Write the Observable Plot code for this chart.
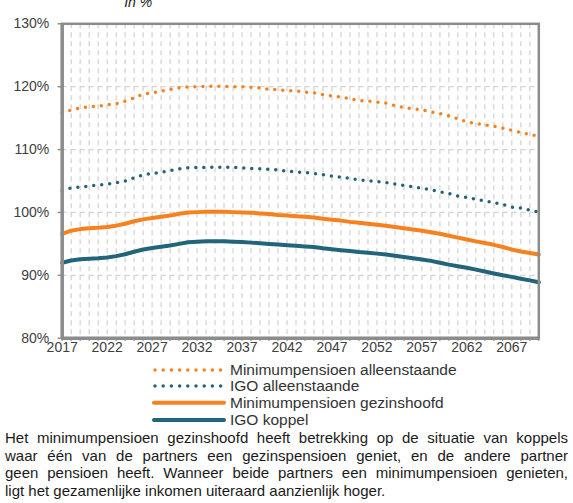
<!DOCTYPE html>
<html>
<head>
<meta charset="utf-8">
<script src="https://cdn.jsdelivr.net/npm/d3@7"></script>
<script src="https://cdn.jsdelivr.net/npm/@observablehq/plot@0.6"></script>
<style>
  body { margin: 0; background: #fff; font-family: "Liberation Sans", Arial, sans-serif; color: #262626; }
  #wrap { width: 573px; }
  #caption { margin: 1px 5px 0 5px; width: 563px; font-size: 15px; line-height: 17.6px; color: #1a1a1a; }
  #caption div.j { text-align: justify; text-align-last: justify; }
</style>
</head>
<body>
<div id="wrap"></div>
<script>
const years = [2017,2018,2019,2020,2021,2022,2023,2024,2025,2026,2027,2028,2029,2030,2031,2032,2033,2034,2035,2036,2037,2038,2039,2040,2041,2042,2043,2044,2045,2046,2047,2048,2049,2050,2051,2052,2053,2054,2055,2056,2057,2058,2059,2060,2061,2062,2063,2064,2065,2066,2067,2068,2069,2070];
const labelYears = [2017,2022,2027,2032,2037,2042,2047,2052,2057,2062,2067];
const yTicks = [80,90,100,110,120,130];

const minAlleenstaande = [115.8,116.3,116.6,116.8,116.9,117.1,117.3,117.7,118.2,118.8,119.0,119.3,119.55,119.85,119.95,120.0,120.05,120.05,120.05,120.0,120.0,119.9,119.8,119.6,119.5,119.4,119.3,119.15,119.0,118.75,118.5,118.35,118.1,117.8,117.7,117.55,117.4,117.0,116.7,116.5,116.3,116.0,115.75,115.35,114.9,114.4,114.15,113.9,113.7,113.4,113.05,112.7,112.4,112.1];
const igoAlleenstaande = [103.5,103.9,104.05,104.2,104.35,104.5,104.7,105.0,105.5,105.95,106.2,106.4,106.65,106.95,107.1,107.15,107.15,107.2,107.2,107.15,107.1,107.0,106.95,106.85,106.75,106.55,106.45,106.35,106.2,106.0,105.8,105.6,105.4,105.2,105.05,104.9,104.75,104.5,104.3,104.05,103.85,103.6,103.3,103.0,102.6,102.4,102.1,101.85,101.55,101.25,100.85,100.7,100.35,100.05];
const minGezinshoofd = [96.6,97.1,97.35,97.5,97.55,97.7,97.9,98.2,98.6,98.9,99.1,99.3,99.5,99.8,100.0,100.05,100.1,100.1,100.1,100.05,100.0,99.95,99.85,99.75,99.6,99.5,99.4,99.3,99.2,99.0,98.85,98.7,98.5,98.35,98.2,98.05,97.9,97.7,97.5,97.3,97.1,96.85,96.6,96.3,96.0,95.7,95.4,95.15,94.85,94.5,94.1,93.8,93.55,93.3];
const igoKoppel = [92.0,92.35,92.55,92.65,92.7,92.85,93.05,93.35,93.75,94.1,94.35,94.55,94.75,95.0,95.25,95.35,95.4,95.4,95.4,95.35,95.3,95.2,95.1,95.0,94.9,94.8,94.7,94.6,94.5,94.3,94.15,94.0,93.85,93.7,93.6,93.45,93.3,93.1,92.9,92.7,92.5,92.3,92.0,91.7,91.45,91.2,90.9,90.6,90.3,90.0,89.75,89.45,89.2,88.9];

const seriesNames = ["Minimumpensioen alleenstaande","IGO alleenstaande","Minimumpensioen gezinshoofd","IGO koppel"];
const seriesColors = ["#f5821f","#22657b","#f5821f","#22657b"];
const seriesDotted = [true,true,false,false];
const seriesValues = [minAlleenstaande, igoAlleenstaande, minGezinshoofd, igoKoppel];

const AXIS = "#8c8c8c", GRID = "#d4d4d4";

const rows = seriesValues.flatMap((vals, i) => vals.map((v, j) => ({year: years[j], value: v, series: seriesNames[i]})));

const lineMarks = seriesNames.map((name, i) => Plot.line(rows.filter(d => d.series === name), {
  x: "year", y: "value",
  stroke: seriesColors[i],
  strokeWidth: seriesDotted[i] ? 3.5 : 4,
  strokeDasharray: seriesDotted[i] ? "0,8" : null,
  strokeLinecap: "round",
  strokeLinejoin: "round"
}));

const chart = Plot.plot({
  width: 573,
  height: 362,
  marginLeft: 61.7,
  marginRight: 34.7,
  marginTop: 23.3,
  marginBottom: 24.3,
  style: {fontFamily: "Liberation Sans, Arial, sans-serif", fontSize: "14px", color: "#404040", background: "#fff"},
  x: {domain: [2017, 2070]},
  y: {domain: [80, 130]},
  marks: [
    Plot.ruleX(years.slice(1, -1), {stroke: GRID, strokeWidth: 1.3, strokeDasharray: "5,4"}),
    Plot.ruleY(yTicks.slice(1, -1), {stroke: GRID, strokeWidth: 1.3, strokeDasharray: "5,4"}),
    ...lineMarks,
    Plot.frame({stroke: AXIS, strokeWidth: 2.5}),
    Plot.axisY({ticks: yTicks, tickSize: 4, tickPadding: 9, tickFormat: d => d + "%", stroke: AXIS, strokeWidth: 1.5, fill: "#404040", label: null}),
    Plot.axisX({ticks: years, tickSize: 3, tickFormat: () => "", stroke: AXIS, strokeWidth: 1.5, label: null}),
    Plot.axisX({ticks: labelYears, tickSize: 0, tickPadding: 4, tickFormat: d => String(d), fill: "#404040", label: null}),
    Plot.ruleX([2017], {stroke: AXIS, strokeWidth: 3.5}),
    Plot.ruleY([80], {stroke: AXIS, strokeWidth: 3.5}),
    Plot.text(["In %"], {frameAnchor: "top-left", dx: 76, dy: -21, textAnchor: "middle", lineAnchor: "middle", fontStyle: "italic", fontSize: 14, fill: "#1a1a1a"})
  ]
});

const wrap = document.getElementById("wrap");
wrap.appendChild(chart);

// legend
const legH = 66;
const leg = d3.create("svg").attr("width", 573).attr("height", legH).style("display", "block")
  .style("font-family", "Liberation Sans, Arial, sans-serif");
const rowY = [8, 24, 40.7, 58];
seriesNames.forEach((name, i) => {
  const y = rowY[i];
  leg.append("line")
    .attr("x1", seriesDotted[i] ? 155 : 154).attr("x2", seriesDotted[i] ? 221 : 224)
    .attr("y1", y).attr("y2", y)
    .attr("stroke", seriesColors[i])
    .attr("stroke-width", seriesDotted[i] ? 3.5 : 4)
    .attr("stroke-dasharray", seriesDotted[i] ? "0,8.2" : null)
    .attr("stroke-linecap", "round");
  leg.append("text").attr("x", 230).attr("y", y).attr("dy", "0.35em")
    .attr("font-size", 15.5).attr("fill", "#333").text(name);
});
wrap.appendChild(leg.node());

const cap = document.createElement("div");
cap.id = "caption";
const capLines = [
  "Het minimumpensioen gezinshoofd heeft betrekking op de situatie van koppels",
  "waar één van de partners een gezinspensioen geniet, en de andere partner",
  "geen pensioen heeft. Wanneer beide partners een minimumpensioen genieten,",
  "ligt het gezamenlijke inkomen uiteraard aanzienlijk hoger."
];
capLines.forEach((t, i) => {
  const d = document.createElement("div");
  if (i < 3) d.className = "j";
  d.textContent = t;
  cap.appendChild(d);
});
wrap.appendChild(cap);
</script>
</body>
</html>
